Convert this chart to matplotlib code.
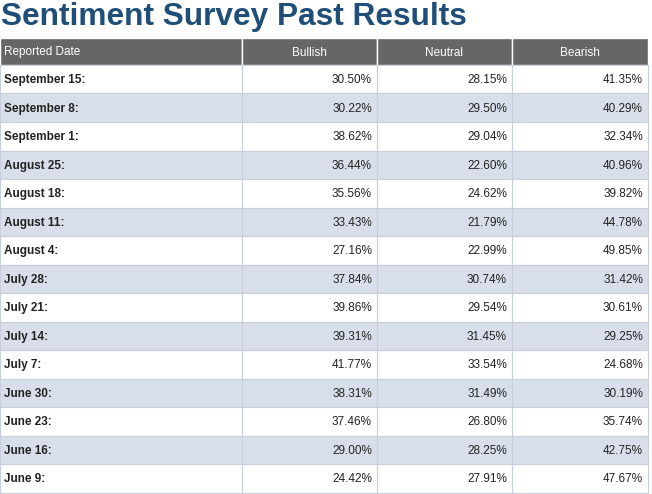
import matplotlib.pyplot as plt
from matplotlib.patches import Rectangle

title = "Sentiment Survey Past Results"
headers = ["Reported Date", "Bullish", "Neutral", "Bearish"]
dates = ["September 15:", "September 8:", "September 1:", "August 25:", "August 18:",
         "August 11:", "August 4:", "July 28:", "July 21:", "July 14:", "July 7:",
         "June 30:", "June 23:", "June 16:", "June 9:"]
bullish = [30.50, 30.22, 38.62, 36.44, 35.56, 33.43, 27.16, 37.84, 39.86, 39.31, 41.77, 38.31, 37.46, 29.00, 24.42]
neutral = [28.15, 29.50, 29.04, 22.60, 24.62, 21.79, 22.99, 30.74, 29.54, 31.45, 33.54, 31.49, 26.80, 28.25, 27.91]
bearish = [41.35, 40.29, 32.34, 40.96, 39.82, 44.78, 49.85, 31.42, 30.61, 29.25, 24.68, 30.19, 35.74, 42.75, 47.67]

W, H = 652, 494
fig = plt.figure(figsize=(W / 100, H / 100), dpi=100)
ax = fig.add_axes([0, 0, 1, 1])
ax.set_xlim(0, W)
ax.set_ylim(H, 0)
ax.axis("off")

col_x = [0, 242, 377, 512, 648]
top = 38
head_h = 27
row_h = 28.5
line = "#c8cfdb"

ax.text(1, 17, title, fontsize=22.8, fontweight="bold", color="#1f4e79",
        va="center", ha="left", family="Liberation Sans")

# header
for i, h in enumerate(headers):
    ax.add_patch(Rectangle((col_x[i], top), col_x[i + 1] - col_x[i], head_h,
                           facecolor="#666666", edgecolor="white", lw=1))
    if i == 0:
        ax.text(col_x[i] + 4, top + head_h / 2 + 1, h, color="white", fontsize=8.5,
                va="center", ha="left", family="Liberation Sans")
    else:
        ax.text((col_x[i] + col_x[i + 1]) / 2, top + head_h / 2 + 1, h, color="white",
                fontsize=8.5, va="center", ha="center", family="Liberation Sans")

y0 = top + head_h
for r, d in enumerate(dates):
    y = y0 + r * row_h
    bg = "white" if r % 2 == 0 else "#d9dfea"
    vals = [bullish[r], neutral[r], bearish[r]]
    for c in range(4):
        ax.add_patch(Rectangle((col_x[c], y), col_x[c + 1] - col_x[c], row_h,
                               facecolor=bg, edgecolor=line, lw=0.8))
    ax.text(col_x[0] + 4, y + row_h / 2 + 1, d, fontsize=8.5, fontweight="bold",
            color="#222222", va="center", ha="left", family="Liberation Sans")
    for c, v in enumerate(vals):
        ax.text(col_x[c + 2] - 5, y + row_h / 2 + 1, f"{v:.2f}%", fontsize=8.5,
                color="#222222", va="center", ha="right", family="Liberation Sans")

fig.savefig("out.png", dpi=100)
